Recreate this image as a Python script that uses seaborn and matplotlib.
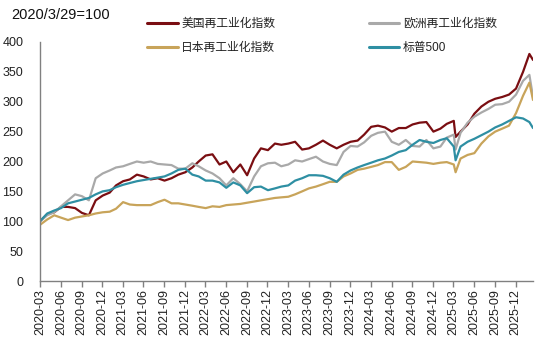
import matplotlib
matplotlib.use("Agg")
import matplotlib.pyplot as plt
import seaborn as sns
import pandas as pd
from matplotlib.lines import Line2D

# ---- data ----
start_date = "2020-03-29"
dip_date = "2025-04-08"
end_date = "2026-03-16"
dates = ([pd.Timestamp(start_date)]
         + list(pd.date_range("2020-04-30", "2025-03-31", freq="ME"))
         + [pd.Timestamp(dip_date)]
         + list(pd.date_range("2025-04-30", "2026-02-28", freq="ME"))
         + [pd.Timestamp(end_date)])

us_reind = [100,
            112, 115, 124, 124, 122, 114, 110, 135, 143, 148, 160, 167,
            170, 178, 175, 170, 172, 168, 172, 178, 182, 190, 200, 210,
            212, 195, 200, 182, 195, 177, 205, 222, 219, 230, 228, 230,
            233, 220, 222, 228, 235, 228, 222, 228, 233, 235, 245, 258,
            260, 257, 250, 256, 256, 262, 265, 266, 250, 255, 263, 268,
            241,
            250, 262, 280, 292, 300, 305, 308, 312, 322, 350, 380,
            370]
eu_reind = [100,
            110, 115, 125, 135, 145, 142, 135, 172, 180, 185, 190, 192,
            196, 200, 198, 200, 196, 195, 194, 188, 188, 197, 192, 185,
            180, 172, 160, 172, 162, 150, 175, 192, 197, 198, 192, 195,
            202, 200, 204, 208, 200, 196, 194, 216, 226, 225, 232, 243,
            248, 250, 233, 228, 236, 226, 225, 236, 222, 225, 240, 245,
            220,
            248, 265, 275, 282, 288, 295, 296, 300, 312, 335, 345,
            308]
jp_reind = [94,
            103, 110, 106, 102, 106, 108, 110, 113, 115, 116, 121, 132,
            128, 127, 127, 127, 132, 136, 130, 130, 128, 126, 124, 122,
            125, 124, 127, 128, 129, 131, 133, 135, 137, 139, 140, 141,
            145, 150, 155, 158, 162, 166, 166, 175, 180, 186, 188, 191,
            194, 199, 199, 186, 191, 200, 199, 198, 196, 198, 199, 195,
            182,
            205, 211, 214, 230, 242, 250, 255, 260, 281, 310, 332,
            303]
spx = [100,
       113, 118, 122, 130, 133, 136, 139, 145, 150, 152, 157, 161,
       164, 167, 169, 171, 173, 175, 180, 186, 188, 178, 175, 168,
       168, 165, 156, 165, 160, 147, 157, 158, 152, 155, 158, 160,
       168, 172, 177, 177, 176, 172, 166, 178, 185, 190, 194, 198,
       202, 205, 210, 216, 219, 228, 236, 233, 231, 236, 239, 225,
       202,
       225, 233, 238, 244, 250, 257, 262, 268, 274, 272, 266,
       256]

series_names = ["美国再工业化指数", "欧洲再工业化指数", "日本再工业化指数", "标普500"]
series_values = [us_reind, eu_reind, jp_reind, spx]
series_colors = ["#7A0E12", "#A9A9A9", "#C8A45A", "#2E8FA3"]

title_text = "2020/3/29=100"
y_ticks = [0, 50, 100, 150, 200, 250, 300, 350, 400]

# ---- build long table ----
frames = []
for name, vals in zip(series_names, series_values):
    frames.append(pd.DataFrame({"date": dates, "value": vals, "series": name}))
df = pd.concat(frames, ignore_index=True)

sns.set_theme(style="white")
plt.rcParams["font.family"] = ["Liberation Sans", "Noto Sans CJK SC", "DejaVu Sans"]

fig = plt.figure(figsize=(5.5, 3.38), dpi=100)
ax = fig.add_axes([40 / 550, 57 / 338, (533 - 40) / 550, (281 - 42) / 338])

palette = dict(zip(series_names, series_colors))
sns.lineplot(data=df, x="date", y="value", hue="series", hue_order=series_names,
             palette=palette, linewidth=1.6, ax=ax, legend=False)

ax.set_xlim(pd.Timestamp(start_date), pd.Timestamp(end_date))
ax.set_ylim(0, 400)
ax.set_yticks(y_ticks)
ax.set_xlabel("")
ax.set_ylabel("")

tick_months = pd.date_range("2020-03-01", "2025-12-01", freq="3MS")
tick_dates = [pd.Timestamp(d.year, d.month, 29) for d in tick_months]
ax.set_xticks(tick_dates)
ax.set_xticklabels([d.strftime("%Y-%m") for d in tick_dates], rotation=90)

for s in ["top", "right"]:
    ax.spines[s].set_visible(False)
for s in ["left", "bottom"]:
    ax.spines[s].set_color("#808080")
    ax.spines[s].set_linewidth(1.0)

ax.tick_params(axis="x", which="both", bottom=True, length=4, width=1.0,
               color="#808080", labelsize=9, pad=2, labelcolor="#222222")
ax.tick_params(axis="y", which="both", left=False, labelsize=9, pad=6,
               labelcolor="#222222")
ax.grid(False)

fig.text(11 / 550, 1 - 15 / 338, title_text, fontsize=10.5, color="#111111",
         ha="left", va="center")

# legend: column-major -> col1: US, Japan ; col2: Europe, S&P
leg_order = [0, 2, 1, 3]
handles = [Line2D([0], [0], color=series_colors[i], linewidth=2.2) for i in leg_order]
labels = [series_names[i] for i in leg_order]
leg = fig.legend(handles, labels, loc="upper left",
                 bbox_to_anchor=(147 / 550, 1 - 18 / 338), ncol=2, frameon=False,
                 fontsize=8.5, handlelength=2.6, handletextpad=0.3,
                 columnspacing=7.9, labelspacing=1.0, borderpad=0,
                 borderaxespad=0)
for t in leg.get_texts():
    t.set_color("#222222")

fig.savefig("out.png", dpi=100)
